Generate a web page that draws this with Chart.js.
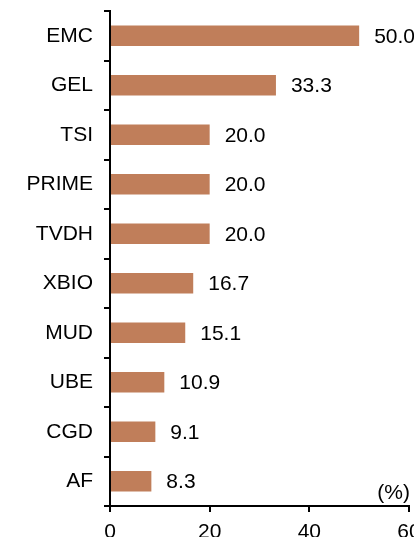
<!DOCTYPE html>
<html>
<head>
<meta charset="utf-8">
<script src="https://cdn.jsdelivr.net/npm/chart.js@4"></script>
<style>
html,body{margin:0;padding:0;background:#fff;overflow:hidden;}
#wrap{width:414px;height:537px;position:relative;}
</style>
</head>
<body>
<div id="wrap"><canvas id="c"></canvas></div>
<script>
const categories = ["EMC","GEL","TSI","PRIME","TVDH","XBIO","MUD","UBE","CGD","AF"];
const values = [50.0,33.3,20.0,20.0,20.0,16.7,15.1,10.9,9.1,8.3];
const xTicks = [0,20,40,60];
const unitLabel = "(%)";

const FONT = "'Liberation Sans', Arial, sans-serif";

const valueLabels = {
  id:'valueLabels',
  afterDatasetsDraw(chart){
    const ctx = chart.ctx;
    const meta = chart.getDatasetMeta(0);
    ctx.save();
    ctx.font = "21px " + FONT;
    ctx.fillStyle = "#000";
    ctx.textAlign = "left";
    ctx.textBaseline = "middle";
    meta.data.forEach((bar,i)=>{
      ctx.fillText(values[i].toFixed(1), bar.x + 15, bar.y + 1);
    });
    const a = chart.chartArea;
    ctx.textAlign = "right";
    ctx.textBaseline = "alphabetic";
    ctx.fillText(unitLabel, a.right + 1, a.bottom - 7);
    ctx.restore();
  }
};

new Chart(document.getElementById('c'), {
  type:'bar',
  data:{
    labels:categories,
    datasets:[{
      data:values,
      backgroundColor:'#C07E5A',
      borderWidth:0,
      barPercentage:0.41,
      categoryPercentage:1.0
    }]
  },
  options:{
    indexAxis:'y',
    responsive:true,
    maintainAspectRatio:false,
    animation:false,
    devicePixelRatio:1,
    layout:{padding:{top:11,right:5,left:0,bottom:0}},
    plugins:{legend:{display:false},tooltip:{enabled:false}},
    scales:{
      x:{
        min:0,max:60,
        afterBuildTicks(s){ s.ticks = xTicks.map(v=>({value:v})); },
        afterFit(s){ s.height = 31; s.paddingRight = 0; s.paddingLeft = 0; },
        border:{color:'#000',width:2},
        grid:{drawOnChartArea:false,drawTicks:true,tickLength:6,color:'#000',lineWidth:2},
        ticks:{color:'#000',font:{family:FONT,size:21},padding:8,maxRotation:0,autoSkip:false}
      },
      y:{
        afterFit(s){ s.width = 110; s.paddingTop = 0; s.paddingBottom = 0; },
        border:{color:'#000',width:2},
        grid:{offset:true,drawOnChartArea:false,drawTicks:true,tickLength:6,color:'#000',lineWidth:2},
        ticks:{color:'#000',font:{family:FONT,size:21},padding:11,autoSkip:false}
      }
    }
  },
  plugins:[valueLabels]
});
</script>
</body>
</html>
